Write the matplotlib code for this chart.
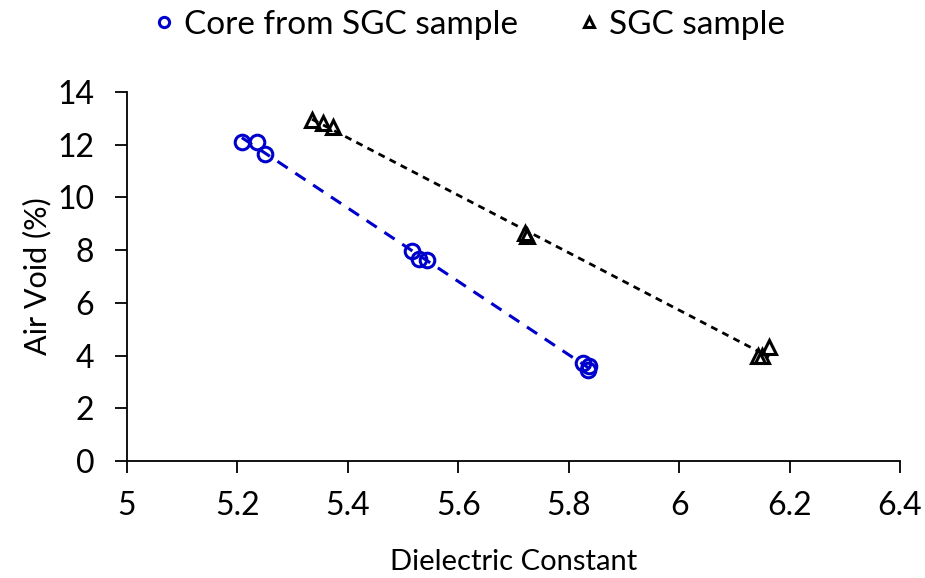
import numpy as np
import matplotlib
matplotlib.use('Agg')
import matplotlib.pyplot as plt

plt.rcParams['font.family'] = ['Lato', 'DejaVu Sans']

# dielectric constant vs air void for the two sample types
core_dc = [5.208, 5.236, 5.250, 5.516, 5.529, 5.543, 5.826, 5.835, 5.837]
core_av = [12.12, 12.12, 11.66, 7.98, 7.66, 7.62, 3.72, 3.45, 3.62]

sgc_dc = [5.335, 5.355, 5.373, 5.721, 5.725, 6.143, 6.150, 6.163]
sgc_av = [12.92, 12.84, 12.68, 8.66, 8.54, 4.00, 3.98, 4.34]

fig = plt.figure(figsize=(9.25, 5.78), dpi=100)
ax = fig.add_axes([127 / 925, 1 - 461 / 578, (900 - 127) / 925, (461 - 92) / 578])

ax.plot(core_dc, core_av, 'o', mfc='none', mec='#0000CC', mew=2.2, ms=10.5,
        label='Core from SGC sample')
ax.plot(sgc_dc, sgc_av, '^', mfc='none', mec='black', mew=2.2, ms=10.5,
        label='SGC sample')

# linear trendlines
for xs, ys, c, ls, lw in [(core_dc, core_av, '#0000CC', (0, (4, 3)), 2.2),
                          (sgc_dc, sgc_av, 'black', (0, (2.5, 2)), 2.0)]:
    p = np.polyfit(xs, ys, 1)
    xx = np.array([min(xs), max(xs)])
    ax.plot(xx, np.polyval(p, xx), color=c, ls=ls, lw=lw, zorder=1)

ax.set_xlim(5, 6.4)
ax.set_ylim(0, 14)
ax.set_xticks(np.arange(5, 6.41, 0.2))
ax.set_xticklabels(['5', '5.2', '5.4', '5.6', '5.8', '6', '6.2', '6.4'])
ax.set_yticks(range(0, 15, 2))
ax.spines['top'].set_visible(False)
ax.spines['right'].set_visible(False)
for s in ['left', 'bottom']:
    ax.spines[s].set_linewidth(1.3)
ax.tick_params(labelsize=23, length=8.5, width=1.3, direction='out')
ax.tick_params(axis='x', pad=13)
ax.tick_params(axis='y', pad=15)
ax.set_xlabel('Dielectric Constant', fontsize=21, labelpad=20)
ax.set_ylabel('Air Void (%)', fontsize=22, labelpad=4)

fig.legend(loc='upper center', bbox_to_anchor=(0.505, 1.035), ncol=2, frameon=False,
           fontsize=24, handletextpad=0.15, columnspacing=1.7, markerscale=0.7,
           handlelength=0.9)

fig.savefig('out.png', dpi=100)
